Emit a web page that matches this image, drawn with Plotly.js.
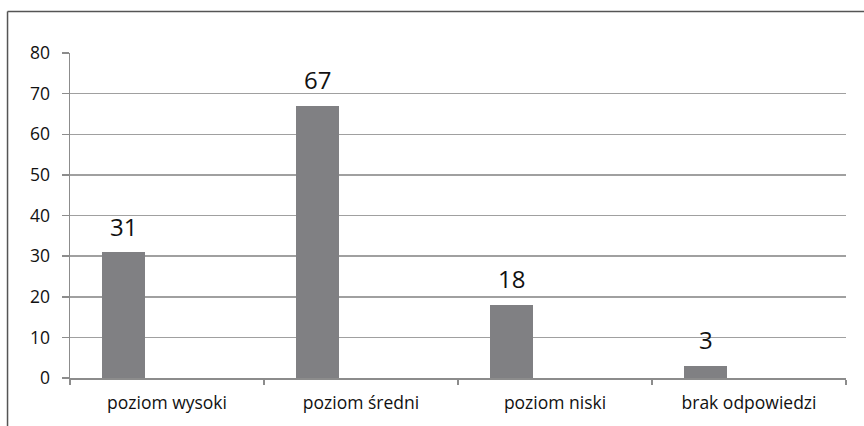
<!DOCTYPE html>
<html>
<head>
<meta charset="utf-8">
<script src="https://cdn.plot.ly/plotly-3.0.1.min.js"></script>
<style>
html, body { margin: 0; padding: 0; background: #fff; }
#chart { width: 864px; height: 426px; }
</style>
</head>
<body>
<div id="chart"></div>
<script>
const categories = ["poziom wysoki", "poziom średni", "poziom niski", "brak odpowiedzi"];
const values = [31, 67, 18, 3];
const yTicks = [0, 10, 20, 30, 40, 50, 60, 70, 80];

const FONT = "Open Sans, Liberation Sans, sans-serif";

const trace = {
  type: "bar",
  x: categories,
  y: values,
  width: 0.222,
  offset: -0.335,
  marker: { color: "#808083", line: { width: 0 } },
  hoverinfo: "none"
};

const annotations = categories.map((c, i) => ({
  x: c,
  y: values[i],
  xref: "x",
  yref: "y",
  text: String(values[i]),
  showarrow: false,
  xanchor: "center",
  yanchor: "middle",
  xshift: -43.5,
  yshift: 26,
  font: { family: FONT, size: 24, color: "#111111" }
}));

const layout = {
  width: 864,
  height: 426,
  margin: { l: 70, r: 18, t: 53, b: 48, pad: 0 },
  paper_bgcolor: "#ffffff",
  plot_bgcolor: "#ffffff",
  showlegend: false,
  bargap: 0,
  xaxis: {
    type: "category",
    tickson: "boundaries",
    ticks: "outside",
    ticklen: 5,
    tickwidth: 1.5,
    tickcolor: "#8c8c8c",
    showline: true,
    linecolor: "#8c8c8c",
    linewidth: 1.5,
    showgrid: false,
    zeroline: false,
    ticklabelstandoff: 8,
    tickfont: { family: FONT, size: 17.5, color: "#111111" },
    fixedrange: true
  },
  yaxis: {
    range: [0, 80],
    tickvals: yTicks,
    ticktext: yTicks.map(String),
    ticks: "outside",
    ticklen: 7,
    tickwidth: 1.5,
    tickcolor: "#8c8c8c",
    showline: true,
    linecolor: "#8c8c8c",
    linewidth: 1.5,
    showgrid: true,
    gridcolor: "#a0a0a0",
    gridwidth: 1.5,
    zeroline: false,
    ticklabelstandoff: 8,
    tickfont: { family: FONT, size: 17.5, color: "#111111" },
    fixedrange: true
  },
  annotations: annotations,
  shapes: [
    { type: "line", xref: "paper", yref: "paper", x0: -0.0805, x1: -0.0805, y0: 1.1277, y1: -0.2, line: { color: "#555555", width: 1.5 } },
    { type: "line", xref: "paper", yref: "paper", x0: -0.0805, x1: 1.1, y0: 1.1277, y1: 1.1277, line: { color: "#555555", width: 1.5 } }
  ]
};

Plotly.newPlot("chart", [trace], layout, { staticPlot: true, displayModeBar: false });
</script>
</body>
</html>
